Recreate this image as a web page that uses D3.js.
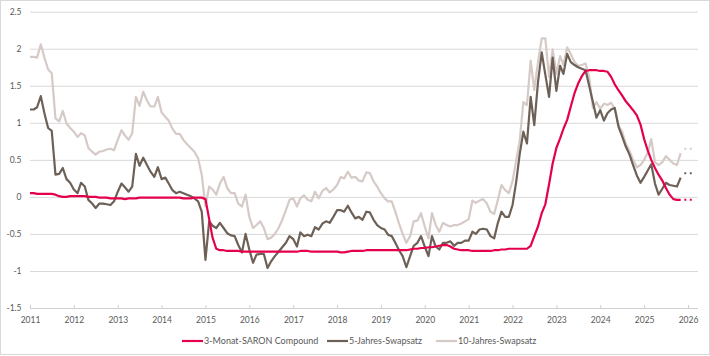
<!DOCTYPE html>
<html><head><meta charset="utf-8">
<script src="https://cdn.jsdelivr.net/npm/d3@7"></script>
<style>
body{margin:0;background:#fff;}
svg{display:block;font-family:Lato,"Open Sans",sans-serif;}
</style></head>
<body><svg id="c" width="710" height="356"></svg>
<script>
// Monthly data, Jan 2011 .. Nov 2025
const startMonth = "2011-01";
const saron = [
0.05,0.05,0.04,0.04,0.04,0.04,0.04,0.03,0.01,0.00,0.00,0.01,
0.01,0.01,0.01,0.01,0.00,0.00,0.00,-0.01,-0.01,-0.01,-0.02,-0.02,
-0.02,-0.02,-0.03,-0.02,-0.02,-0.02,-0.01,-0.01,-0.01,-0.01,-0.01,-0.01,
-0.01,-0.01,-0.01,-0.01,-0.01,-0.01,-0.02,-0.02,-0.02,-0.01,-0.01,-0.01,
-0.03,-0.30,-0.55,-0.70,-0.72,-0.72,-0.73,-0.73,-0.73,-0.73,-0.74,-0.74,
-0.74,-0.74,-0.74,-0.74,-0.74,-0.74,-0.74,-0.74,-0.74,-0.74,-0.74,-0.74,
-0.74,-0.74,-0.73,-0.73,-0.73,-0.74,-0.74,-0.74,-0.74,-0.74,-0.74,-0.74,
-0.74,-0.75,-0.75,-0.74,-0.73,-0.73,-0.73,-0.73,-0.72,-0.72,-0.72,-0.72,
-0.72,-0.72,-0.72,-0.72,-0.72,-0.72,-0.72,-0.72,-0.71,-0.70,-0.70,-0.69,
-0.69,-0.68,-0.68,-0.67,-0.66,-0.65,-0.65,-0.67,-0.70,-0.71,-0.72,-0.72,
-0.72,-0.73,-0.73,-0.73,-0.73,-0.73,-0.73,-0.72,-0.72,-0.71,-0.71,-0.70,
-0.70,-0.70,-0.70,-0.70,-0.70,-0.66,-0.53,-0.40,-0.22,-0.10,0.17,0.45,
0.66,0.79,0.92,1.04,1.22,1.40,1.53,1.63,1.70,1.71,1.71,1.71,
1.70,1.70,1.69,1.62,1.52,1.44,1.37,1.29,1.23,1.17,1.10,0.98,
0.78,0.62,0.50,0.39,0.30,0.22,0.12,0.03,-0.03,-0.04,-0.04
];
const swap5 = [
1.18,1.18,1.21,1.36,1.13,0.93,0.89,0.30,0.31,0.39,0.24,0.19,
0.10,0.05,0.19,0.14,-0.04,-0.09,-0.15,-0.09,-0.09,-0.10,-0.11,-0.06,
0.07,0.18,0.13,0.07,0.14,0.58,0.42,0.53,0.43,0.34,0.27,0.40,
0.24,0.26,0.18,0.09,0.05,0.07,0.05,0.03,0.01,-0.02,-0.06,-0.20,
-0.85,-0.33,-0.39,-0.42,-0.35,-0.42,-0.49,-0.52,-0.53,-0.65,-0.75,-0.50,
-0.71,-0.89,-0.78,-0.77,-0.77,-0.96,-0.87,-0.80,-0.74,-0.68,-0.62,-0.53,
-0.57,-0.67,-0.48,-0.53,-0.51,-0.53,-0.41,-0.44,-0.36,-0.33,-0.35,-0.27,
-0.18,-0.18,-0.20,-0.12,-0.21,-0.29,-0.27,-0.31,-0.20,-0.21,-0.31,-0.38,
-0.42,-0.44,-0.51,-0.53,-0.62,-0.72,-0.80,-0.95,-0.80,-0.66,-0.62,-0.53,
-0.67,-0.80,-0.53,-0.67,-0.71,-0.62,-0.62,-0.60,-0.66,-0.62,-0.62,-0.59,
-0.59,-0.47,-0.50,-0.44,-0.43,-0.44,-0.53,-0.56,-0.35,-0.20,-0.27,-0.27,
-0.11,0.21,0.57,0.88,0.72,1.35,0.97,1.55,1.95,1.65,1.35,1.88,
1.43,1.77,1.66,1.93,1.82,1.78,1.75,1.73,1.71,1.50,1.28,1.07,
1.17,1.03,1.13,1.18,1.20,0.95,0.82,0.68,0.57,0.43,0.29,0.19,
0.27,0.36,0.44,0.18,0.03,0.11,0.19,0.16,0.15,0.14,0.26
];
const swap10 = [
1.89,1.89,1.88,2.06,1.88,1.72,1.67,1.06,1.02,1.16,0.99,0.93,
0.88,0.81,0.86,0.83,0.66,0.61,0.57,0.61,0.62,0.64,0.65,0.63,
0.77,0.90,0.83,0.77,0.86,1.35,1.23,1.42,1.30,1.22,1.22,1.35,
1.14,1.08,1.03,0.92,0.85,0.85,0.77,0.71,0.66,0.61,0.52,0.30,
-0.13,0.14,0.10,0.03,0.18,0.27,0.12,0.05,0.05,-0.09,-0.13,0.03,
-0.27,-0.42,-0.38,-0.33,-0.42,-0.57,-0.55,-0.50,-0.42,-0.31,-0.18,-0.04,
-0.02,-0.13,-0.02,0.02,-0.04,-0.06,0.07,-0.02,0.08,0.12,0.06,0.10,
0.16,0.27,0.25,0.34,0.26,0.27,0.22,0.21,0.33,0.32,0.21,0.14,
0.05,-0.02,-0.06,-0.06,-0.20,-0.36,-0.50,-0.62,-0.53,-0.33,-0.32,-0.22,
-0.40,-0.56,-0.22,-0.38,-0.47,-0.35,-0.38,-0.40,-0.38,-0.38,-0.36,-0.33,
-0.30,-0.05,-0.08,-0.05,-0.03,-0.09,-0.20,-0.23,-0.04,0.16,0.09,0.05,
0.21,0.50,0.75,1.28,1.24,1.84,1.44,1.82,2.14,2.14,1.62,1.99,
1.66,1.90,1.78,2.02,1.93,1.82,1.77,1.78,1.80,1.62,1.20,1.28,
1.19,1.26,1.24,1.27,1.19,0.97,0.88,0.72,0.62,0.50,0.40,0.43,
0.50,0.60,0.78,0.47,0.43,0.47,0.55,0.50,0.45,0.43,0.59
];
// Forward levels shown as dotted extensions
const forwardSpan = ["2025-12-01", "2026-03-01"];
const forwardSaron = -0.04;
const forward5 = 0.32;
const forward10 = 0.65;

const yTicks = [-1.5,-1,-0.5,0,0.5,1,1.5,2,2.5];
const xTickYears = [2011,2012,2013,2014,2015,2016,2017,2018,2019,2020,2021,2022,2023,2024,2025,2026];
const seriesNames = ["3-Monat-SARON Compound","5-Jahres-Swapsatz","10-Jahres-Swapsatz"];
const colors = ["#e5004c","#6d6157","#d6cac7"];

(function(){
const svg = d3.select("#c");
svg.append("rect").attr("x",0.5).attr("y",0.5).attr("width",709).attr("height",354)
  .attr("fill","#fff").attr("stroke","#d9d9d9");

const pL = 30, pR = 698, pT = 11.7, pB = 308;
const x = d3.scaleTime().domain([new Date(2011,0,1), new Date(2026,0,1)]).range([pL, 688]);
const y = d3.scaleLinear().domain([-1.5,2.5]).range([pB, pT]);

const parseM = d3.timeParse("%Y-%m");
const months = d3.timeMonth.range(parseM(startMonth), d3.timeMonth.offset(parseM(startMonth), saron.length));

const yAxis = svg.append("g").attr("transform",`translate(${pL},0)`)
  .call(d3.axisLeft(y).tickValues(yTicks).tickSize(-(pR-pL)).tickPadding(8.5)
    .tickFormat(d => String(d)));
yAxis.select(".domain").remove();
yAxis.selectAll(".tick line").attr("stroke","#d9d9d9").attr("stroke-width",1);
yAxis.selectAll(".tick text").attr("fill","#595959").attr("font-size","8.5px").attr("font-family","Lato");

const xAxis = svg.append("g").attr("transform",`translate(0,${pB})`)
  .call(d3.axisBottom(x).tickValues(xTickYears.map(yr => new Date(yr,0,1)))
    .tickFormat(d3.timeFormat("%Y")).tickSizeInner(-3).tickSizeOuter(0).tickPadding(9));
xAxis.select(".domain").attr("stroke","#d0d0d0").attr("d",`M${pL},0.5H${pR}`);
xAxis.selectAll(".tick line").attr("stroke","#d0d0d0");
xAxis.selectAll(".tick text").attr("fill","#595959").attr("font-size","8.5px").attr("font-family","Lato");

const line = d3.line().x(d => x(d[0])).y(d => y(d[1]));
const seriesData = [saron, swap5, swap10];
const forwards = [forwardSaron, forward5, forward10];
[2,1,0].forEach(i => {
  svg.append("path").datum(months.map((m,k) => [m, seriesData[i][k]]))
    .attr("fill","none").attr("stroke",colors[i]).attr("stroke-width",2.2)
    .attr("stroke-linejoin","round").attr("d",line);
  svg.append("path").datum(forwardSpan.map(s => [new Date(s), forwards[i]]))
    .attr("fill","none").attr("stroke",colors[i]).attr("stroke-width",2)
    .attr("stroke-dasharray","2,3.5").attr("d",line);
});

const legendX = [182, 327, 436];
const lg = svg.append("g");
seriesNames.forEach((n,i) => {
  lg.append("line").attr("x1",legendX[i]).attr("x2",legendX[i]+21)
    .attr("y1",341).attr("y2",341).attr("stroke",colors[i]).attr("stroke-width",2.2);
  lg.append("text").attr("x",legendX[i]+22).attr("y",344).text(n)
    .attr("fill","#595959").attr("font-size","9px").attr("font-family","Lato");
});
})();
</script></body></html>
